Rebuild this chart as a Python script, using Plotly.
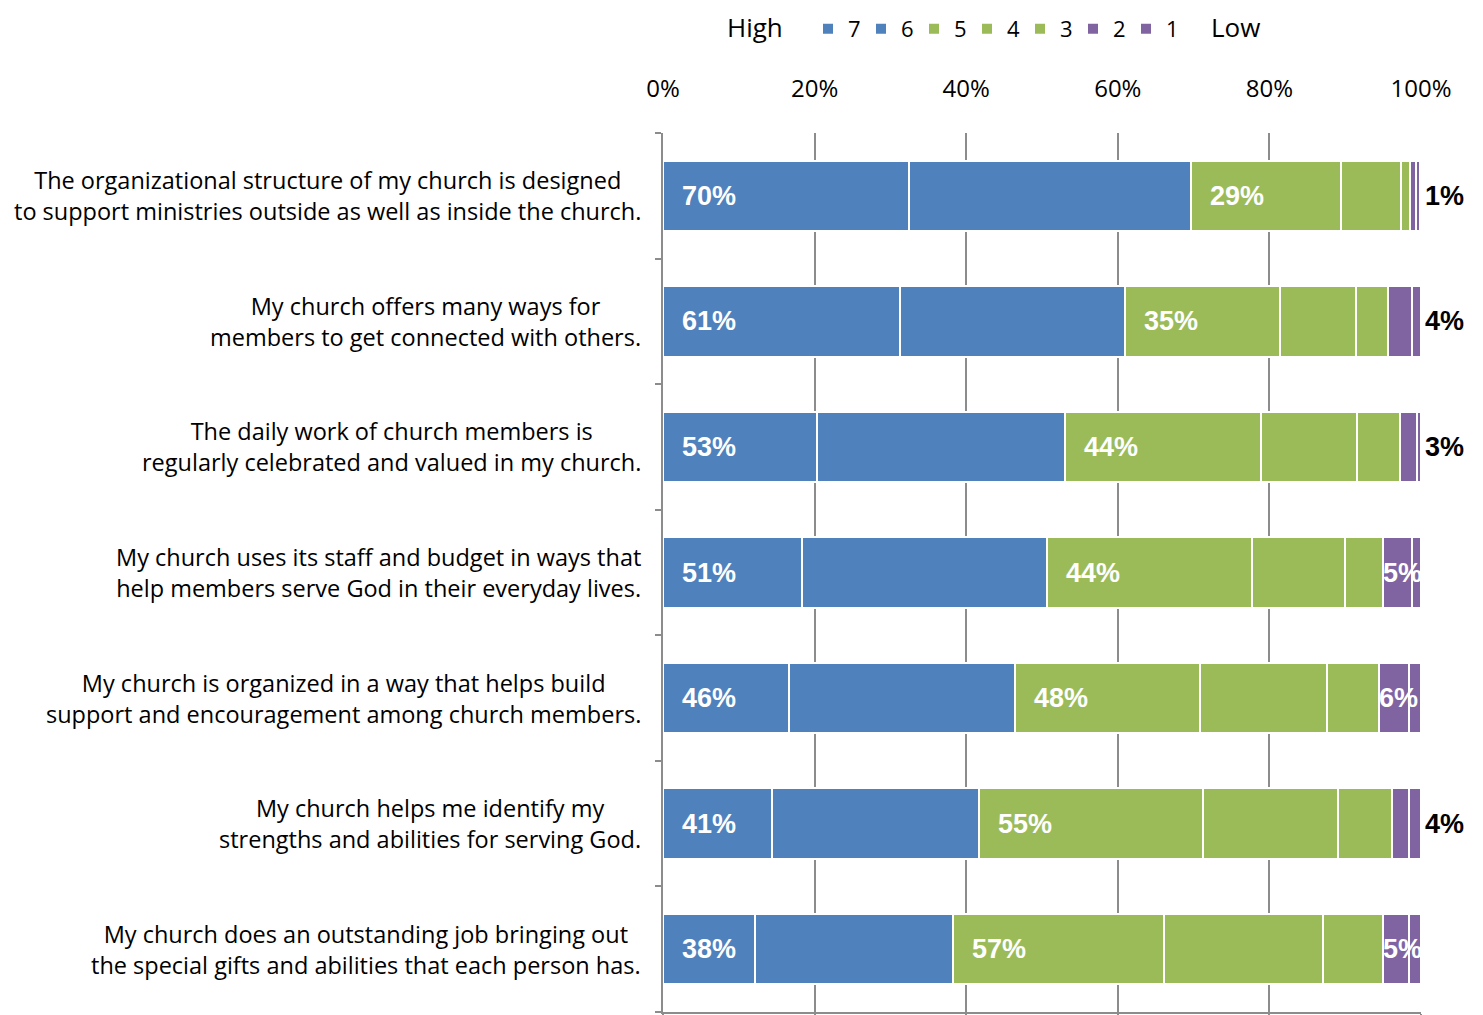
import plotly.graph_objects as go

categories = [
    "The organizational structure of my church is designed<br>to support ministries outside as well as inside the church.",
    "My church offers many ways for<br>members to get connected with others.",
    "The daily work of church members is<br>regularly celebrated and valued in my church.",
    "My church uses its staff and budget in ways that<br>help members serve God in their everyday lives.",
    "My church is organized in a way that helps build<br>support and encouragement among church members.",
    "My church helps me identify my<br>strengths and abilities for serving God.",
    "My church does an outstanding job bringing out<br>the special gifts and abilities that each person has.",
]
series_names = ["7", "6", "5", "4", "3", "2", "1"]
s7 = [32.4, 31.3, 20.3, 18.3, 16.6, 14.4, 12.1]
s6 = [37.2, 29.7, 32.7, 32.4, 29.8, 27.3, 26.2]
s5 = [19.9, 20.4, 25.9, 27.0, 24.4, 29.5, 27.8]
s4 = [7.8, 10.0, 12.7, 12.3, 16.8, 17.8, 21.0]
s3 = [1.3, 4.2, 5.6, 5.0, 6.9, 7.2, 7.9]
s2 = [0.8, 3.2, 2.3, 3.8, 3.9, 2.2, 3.4]
s1 = [0.5, 1.2, 0.5, 1.2, 1.6, 1.6, 1.6]
high_labels = ["70%", "61%", "53%", "51%", "46%", "41%", "38%"]
mid_labels = ["29%", "35%", "44%", "44%", "48%", "55%", "57%"]
low_labels = ["1%", "4%", "3%", "5%", "6%", "4%", "5%"]
low_inside = [False, False, False, True, True, False, True]
tick_vals = [0, 20, 40, 60, 80, 100]
tick_text = ["0%", "20%", "40%", "60%", "80%", "100%"]

BLUE = "#4F81BD"
GREEN = "#9BBB59"
PURPLE = "#8064A2"
colors = [BLUE, BLUE, GREEN, GREEN, GREEN, PURPLE, PURPLE]
series = [s7, s6, s5, s4, s3, s2, s1]

LABEL_FONT = "Open Sans, Lato, sans-serif"
BOLD_FONT = "Liberation Sans, Arial, sans-serif"

# page body has an 8px margin, so the figure is sized/placed to compensate
FIG_W, FIG_H = 1475, 1007
M_L, M_R, M_T, M_B = 655, 62, 125, 3
PLOT_W = FIG_W - M_L - M_R
PLOT_H = FIG_H - M_T - M_B

fig = go.Figure()
ycat = list(range(len(categories)))
for name, vals, col in zip(series_names, series, colors):
    fig.add_trace(go.Bar(
        y=ycat, x=vals, name=name, orientation="h",
        marker=dict(color=col, line=dict(color="white", width=2)),
        hoverinfo="x+name",
    ))

annotations = []
for i, cat in enumerate(categories):
    annotations.append(dict(
        xref="paper", yref="y", x=0, y=i, text=cat, showarrow=False,
        xanchor="right", yanchor="middle", align="center", xshift=-20,
        font=dict(family=LABEL_FONT, size=23.5, color="black"),
    ))
    annotations.append(dict(
        xref="x", yref="y", x=0, y=i, text=high_labels[i], showarrow=False,
        xanchor="left", yanchor="middle", xshift=17,
        font=dict(family=BOLD_FONT, size=27, color="white", weight="bold"),
    ))
    cum_high = s7[i] + s6[i]
    annotations.append(dict(
        xref="x", yref="y", x=cum_high, y=i, text=mid_labels[i], showarrow=False,
        xanchor="left", yanchor="middle", xshift=17,
        font=dict(family=BOLD_FONT, size=27, color="white", weight="bold"),
    ))
    if low_inside[i]:
        cum_low_start = 100 - s2[i] - s1[i]
        annotations.append(dict(
            xref="x", yref="y", x=cum_low_start, y=i, text=low_labels[i], showarrow=False,
            xanchor="left", yanchor="middle", xshift=-2,
            font=dict(family=BOLD_FONT, size=27, color="white", weight="bold"),
        ))
    else:
        annotations.append(dict(
            xref="x", yref="y", x=100, y=i, text=low_labels[i], showarrow=False,
            xanchor="left", yanchor="middle", xshift=2,
            font=dict(family=BOLD_FONT, size=27, color="black", weight="bold"),
        ))

LEG_TOP = 1 + M_T / PLOT_H
annotations.append(dict(
    xref="paper", yref="paper", x=(747 - M_L) / PLOT_W, y=LEG_TOP,
    text="High", showarrow=False, xanchor="center", yanchor="top", borderpad=0,
    font=dict(family=LABEL_FONT, size=26, color="black"),
))
annotations.append(dict(
    xref="paper", yref="paper", x=(1227 - M_L) / PLOT_W, y=LEG_TOP,
    text="Low", showarrow=False, xanchor="center", yanchor="top", borderpad=0,
    font=dict(family=LABEL_FONT, size=26, color="black"),
))

GRID = "#8C8C8C"
fig.update_layout(
    barmode="stack",
    bargap=0.44,
    width=FIG_W, height=FIG_H,
    margin=dict(l=M_L, r=M_R, t=M_T, b=M_B, autoexpand=False),
    paper_bgcolor="white", plot_bgcolor="white",
    font=dict(family=LABEL_FONT, size=22, color="black"),
    showlegend=True,
    legend=dict(
        orientation="h", x=(800 - M_L) / PLOT_W, y=LEG_TOP,
        xanchor="left", yanchor="top",
        bgcolor="rgba(0,0,0,0)",
        font=dict(family=LABEL_FONT, size=22, color="black"),
        itemwidth=30, entrywidth=8, entrywidthmode="pixels",
        traceorder="normal", itemclick=False, itemdoubleclick=False,
    ),
    xaxis=dict(
        side="top", range=[0, 100], tickvals=tick_vals, ticktext=tick_text,
        showgrid=True, gridcolor=GRID, gridwidth=2, zeroline=False,
        showline=False, ticks="", ticklabelstandoff=30, automargin=False,
        tickfont=dict(family=LABEL_FONT, size=24, color="black"),
        fixedrange=True,
    ),
    xaxis2=dict(
        overlaying="x", matches="x", side="bottom", anchor="y",
        range=[0, 100], tickvals=tick_vals, showticklabels=False,
        showgrid=False, zeroline=False, showline=True, linecolor=GRID, linewidth=2,
        ticks="outside", ticklen=5, tickcolor=GRID, tickwidth=2, automargin=False,
    ),
    yaxis=dict(
        autorange="reversed", type="category", tickmode="array", tickvals=ycat,
        ticktext=[""] * len(categories), showticklabels=False, automargin=False,
        showline=True, linecolor=GRID, linewidth=2,
        ticks="outside", tickson="boundaries", ticklen=6, tickcolor=GRID, tickwidth=2,
        showgrid=False, zeroline=False, fixedrange=True,
    ),
    annotations=annotations,
)
# invisible trace so the bottom axis (xaxis2) is drawn
fig.add_trace(go.Scatter(x=[0], y=[0], xaxis="x2", yaxis="y", mode="markers",
                         marker=dict(opacity=0), showlegend=False, hoverinfo="skip"))

fig.write_html("out.html")
